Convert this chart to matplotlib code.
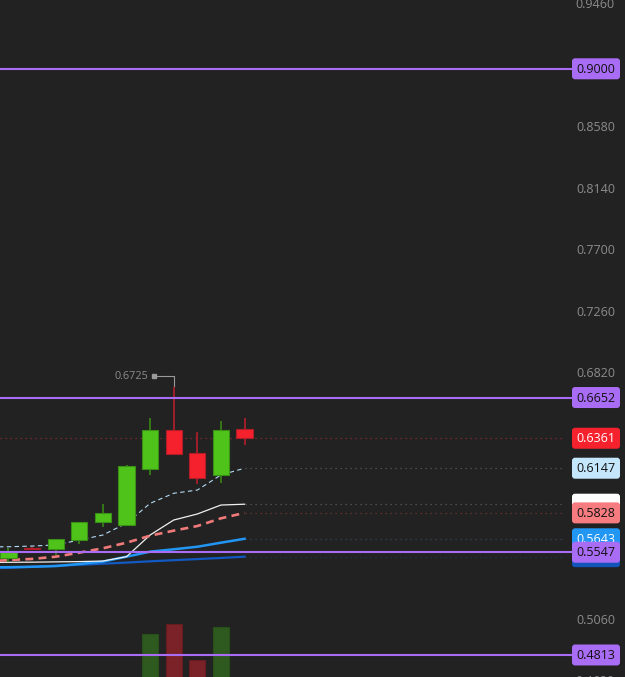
import matplotlib
matplotlib.use('Agg')
import matplotlib.pyplot as plt
from matplotlib.patches import FancyBboxPatch
import numpy as np

plt.rcParams['font.family'] = ['Open Sans', 'DejaVu Sans']

# candles
opens = [0.5504, 0.5580, 0.5568, 0.5634, 0.5763, 0.5741, 0.6139, 0.6420, 0.6256, 0.6101, 0.6425]
highs = [0.5580, 0.5586, 0.5640, 0.5766, 0.5891, 0.6168, 0.6508, 0.6725, 0.6408, 0.6484, 0.6508]
lows = [0.5479, 0.5563, 0.5527, 0.5606, 0.5725, 0.5741, 0.6099, 0.6251, 0.6034, 0.6044, 0.6315]
closes = [0.5551, 0.5568, 0.5639, 0.5765, 0.5827, 0.6163, 0.6420, 0.6251, 0.6077, 0.6422, 0.6361]
volumes = [12, 8, 15, 25, 20, 38, 86, 96, 60, 93, 30]

# moving averages, first point is the bar just off the left edge
ma_x = list(range(-1, 11))
ma_fast = [0.5585, 0.5586, 0.5591, 0.5599, 0.5634, 0.5670, 0.5754, 0.5896, 0.5968, 0.5991, 0.6099, 0.6147]
ma_white = [0.5474, 0.5475, 0.5476, 0.5478, 0.5480, 0.5484, 0.5515, 0.5670, 0.5777, 0.5820, 0.5884, 0.5890]
ma_mid = [0.5480, 0.5491, 0.5499, 0.5515, 0.5544, 0.5575, 0.5615, 0.5665, 0.5701, 0.5734, 0.5789, 0.5828]
ma_slow = [0.5439, 0.5440, 0.5443, 0.5448, 0.5463, 0.5480, 0.5515, 0.5551, 0.5568, 0.5586, 0.5615, 0.5643]
ma_long = [0.5433, 0.5436, 0.5443, 0.5450, 0.5457, 0.5465, 0.5473, 0.5482, 0.5490, 0.5498, 0.5506, 0.5515]

levels = [0.9000, 0.6652, 0.5547, 0.4813]
tick_values = [0.9460, 0.9020, 0.8580, 0.8140, 0.7700, 0.7260, 0.6820,
               0.6380, 0.5940, 0.5500, 0.5060, 0.4620]

BG = '#222222'
GREEN, GREEN_EDGE, GREEN_WICK = '#4fc31a', '#3a8f16', '#3a8f16'
RED, RED_EDGE, RED_WICK = '#f5222d', '#b01d28', '#c21d2b'
PURPLE = '#a96cf5'
TICK = '#8c8c8c'

W, H = 625, 677
fig = plt.figure(figsize=(W / 100, H / 100), dpi=100, facecolor=BG)

XLIM = (-0.36, 26.12)
YLIM = (0.46557, 0.94914)
RIGHT_END = 565 / W

# volume pane sits behind the price pane
vax = fig.add_axes([0, 0, 1, 1], facecolor=BG)
vax.set_xlim(*XLIM)
vax.set_ylim(43, 720)
vax.axis('off')
up = np.array(closes) >= np.array(opens)
vax.bar(np.arange(len(volumes)), volumes, width=0.68,
        color=np.where(up, '#2e5a1f', '#7b2228'),
        edgecolor=np.where(up, '#27501a', '#641c21'), linewidth=0.8)

ax = fig.add_axes([0, 0, 1, 1], facecolor='none')
ax.set_xlim(*XLIM)
ax.set_ylim(*YLIM)
ax.axis('off')

# moving averages
ax.plot(ma_x, ma_long, color='#1259c3', lw=1.6, zorder=2)
ax.plot(ma_x, ma_slow, color='#2196f3', lw=1.8, zorder=2)
ax.plot(ma_x, ma_white, color='#f0f0f0', lw=0.9, zorder=2)
ax.plot(ma_x, ma_mid, color='#f07a7a', lw=1.9, ls=(0, (3, 2)), zorder=2)
ax.plot(ma_x, ma_fast, color='#b4dcf5', lw=0.8, ls=(0, (4, 3)), zorder=2)

# dotted extensions from the last point to the price scale
last = ma_x[-1]
x_last = (last - XLIM[0]) / (XLIM[1] - XLIM[0])
for vals, col in [(ma_fast, '#5a5a5a'), (ma_white, '#5a5a5a'), (ma_mid, '#6e3434'),
                  (ma_slow, '#2e4660'), (ma_long, '#233650')]:
    ax.axhline(vals[-1], xmin=x_last, xmax=RIGHT_END, color=col, lw=0.9,
               ls=(0, (1, 3)), zorder=1)
ax.axhline(closes[-1], xmin=0, xmax=RIGHT_END, color='#8a2a32', lw=0.9,
           ls=(0, (1, 3)), zorder=1)

# candles
idx = np.arange(len(opens))
o, c = np.array(opens), np.array(closes)
ax.vlines(idx, lows, highs, colors=np.where(up, GREEN_WICK, RED_WICK), lw=1.1, zorder=3)
ax.bar(idx, np.maximum(np.abs(c - o), 0.0006), bottom=np.minimum(o, c), width=0.68,
       color=np.where(up, GREEN, RED), edgecolor=np.where(up, GREEN_EDGE, RED_EDGE),
       linewidth=0.8, zorder=4)

# horizontal levels
for lv in levels:
    ax.axhline(lv, xmin=0, xmax=572 / W, color=PURPLE, lw=1.5, zorder=5)

# overlay in pixel coordinates for the price scale labels
lab = fig.add_axes([0, 0, 1, 1], facecolor='none')
lab.set_xlim(0, W)
lab.set_ylim(H, 0)
lab.axis('off')


def to_px(x, v):
    disp = ax.transData.transform((x, v))
    return lab.transData.inverted().transform(disp)


boxes = [
    (closes[-1], RED, 'white', True),
    (ma_fast[-1], '#c4e7fc', '#111111', True),
    (ma_white[-1], '#ffffff', '#111111', False),
    (ma_mid[-1], '#f77c80', '#111111', True),
    (ma_long[-1], '#1254b8', 'white', False),
    (ma_slow[-1], '#2196f3', 'white', True),
] + [(lv, PURPLE, '#111111', True) for lv in levels]
box_py = [to_px(0, b[0])[1] for b in boxes]

# scale ticks, hidden where a value label sits on them
for tv in tick_values:
    _, py = to_px(0, tv)
    if min(abs(py - b) for b in box_py) < 18:
        continue
    lab.text(615, py, f'{tv:.4f}', color=TICK, fontsize=9, ha='right', va='center', zorder=1)

for z, ((val, face, txt, show), py) in enumerate(zip(boxes, box_py)):
    lab.add_patch(FancyBboxPatch((572, py - 10.5), 48, 21,
                                 boxstyle='round,pad=0,rounding_size=3',
                                 facecolor=face, edgecolor='none', zorder=10 + 2 * z))
    if show:
        lab.text(596, py + 0.5, f'{val:.4f}', color=txt, fontsize=9, ha='center',
                 va='center', zorder=11 + 2 * z)

# high marker on the tallest wick
hi = int(np.argmax(highs))
hx, hy = to_px(hi, highs[hi])
lab.plot([hx, hx, 156], [hy - 1, hy - 11, hy - 11], color='#9a9a9a', lw=0.8)
lab.plot([154], [hy - 11], marker='s', ms=2.5, color='#9a9a9a')
lab.text(148, hy - 11, f'{highs[hi]:.4f}', color=TICK, fontsize=7.8, ha='right', va='center')

fig.savefig('out.png', dpi=100, facecolor=BG)
